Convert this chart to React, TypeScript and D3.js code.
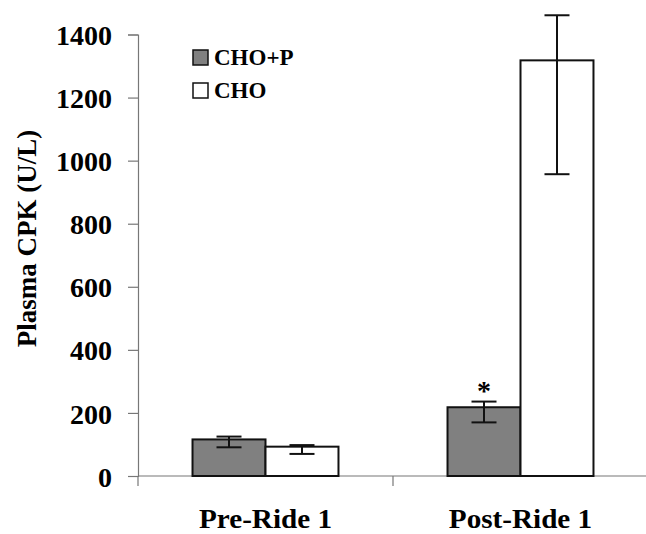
import { useRef, useEffect } from "react";
import * as d3 from "d3";

const categories = ["Pre-Ride 1", "Post-Ride 1"];
const series = ["CHO+P", "CHO"];
const means = [
  [116, 93],
  [218, 1318],
];
const errLow = [
  [91, 70],
  [170, 957],
];
const errHigh = [
  [125, 98],
  [236, 1461],
];
const yTicks = [0, 200, 400, 600, 800, 1000, 1200, 1400];
const significant = [
  [false, false],
  [true, false],
];

const W = 646;
const H = 534;
const FONT = "'Liberation Serif', 'Times New Roman', serif";

const App = () => {
  const svgRef = useRef<SVGSVGElement | null>(null);

  useEffect(() => {
    if (!svgRef.current) return;
    const svg = d3.select(svgRef.current);
    svg.selectAll("*").remove();

    const left = 138;
    const right = 648;
    const top = 34.5;
    const bottom = 476;

    const y = d3.scaleLinear().domain([0, 1400]).range([bottom, top]);
    const x0 = d3.scaleBand<string>().domain(categories).range([left, right]).padding(0);
    const x1 = d3
      .scaleBand<string>()
      .domain(series)
      .range([0, x0.bandwidth()])
      .paddingInner(0)
      .paddingOuter(0.747);
    const fills = d3.scaleOrdinal<string, string>().domain(series).range(["#808080", "#ffffff"]);

    const axisColor = "#777";

    // y axis
    const yAxis = svg
      .append("g")
      .attr("transform", `translate(${left},0)`)
      .call(d3.axisLeft(y).tickValues(yTicks).tickSize(10).tickPadding(16).tickFormat(d3.format("d")));
    yAxis.select(".domain").attr("stroke", axisColor).attr("stroke-width", 1.2);
    yAxis.selectAll(".tick line").attr("stroke", axisColor).attr("stroke-width", 1.2);
    yAxis
      .selectAll(".tick text")
      .attr("font-family", FONT)
      .attr("font-weight", "bold")
      .attr("font-size", 28)
      .attr("fill", "#000")
      .attr("dy", "0.36em");

    // x axis: line with boundary ticks
    const xg = svg.append("g");
    xg.append("line")
      .attr("x1", left)
      .attr("x2", right)
      .attr("y1", bottom)
      .attr("y2", bottom)
      .attr("stroke", axisColor)
      .attr("stroke-width", 1.2);
    const bounds = [left, ...categories.map((c) => (x0(c) as number) + x0.bandwidth())];
    xg.selectAll("line.bt")
      .data(bounds)
      .join("line")
      .attr("class", "bt")
      .attr("x1", (d) => d)
      .attr("x2", (d) => d)
      .attr("y1", bottom)
      .attr("y2", bottom + 10)
      .attr("stroke", axisColor)
      .attr("stroke-width", 1.2);
    xg.selectAll("text")
      .data(categories)
      .join("text")
      .attr(
        "transform",
        (d) => `translate(${(x0(d) as number) + x0.bandwidth() / 2},528) scale(1.08,1)`
      )
      .attr("text-anchor", "middle")
      .attr("font-family", FONT)
      .attr("font-weight", "bold")
      .attr("font-size", 27)
      .text((d) => d);

    // y label
    svg
      .append("text")
      .attr("transform", `translate(36,${(130 + 347) / 2}) rotate(-90)`)
      .attr("text-anchor", "middle")
      .attr("font-family", FONT)
      .attr("font-weight", "bold")
      .attr("font-size", 27)
      .text("Plasma CPK (U/L)");

    // bars
    const flat = categories.flatMap((c, ci) =>
      series.map((s, si) => ({
        c,
        s,
        v: means[ci][si],
        lo: errLow[ci][si],
        hi: errHigh[ci][si],
        sig: significant[ci][si],
      }))
    );
    const bx = (d: (typeof flat)[0]) => (x0(d.c) as number) + (x1(d.s) as number);

    svg
      .append("g")
      .selectAll("rect")
      .data(flat)
      .join("rect")
      .attr("x", bx)
      .attr("y", (d) => y(d.v))
      .attr("width", x1.bandwidth())
      .attr("height", (d) => y(0) - y(d.v))
      .attr("fill", (d) => fills(d.s))
      .attr("stroke", "#111")
      .attr("stroke-width", 2);

    // error bars
    const eg = svg.append("g").attr("stroke", "#111").attr("stroke-width", 2);
    const cap = 12.5;
    flat.forEach((d) => {
      const cx = bx(d) + x1.bandwidth() / 2;
      eg.append("line").attr("x1", cx).attr("x2", cx).attr("y1", y(d.lo)).attr("y2", y(d.hi));
      eg.append("line").attr("x1", cx - cap).attr("x2", cx + cap).attr("y1", y(d.lo)).attr("y2", y(d.lo));
      eg.append("line").attr("x1", cx - cap).attr("x2", cx + cap).attr("y1", y(d.hi)).attr("y2", y(d.hi));
      if (d.sig) {
        svg
          .append("text")
          .attr("x", cx)
          .attr("y", y(d.hi) - 2)
          .attr("text-anchor", "middle")
          .attr("font-family", FONT)
          .attr("font-weight", "bold")
          .attr("font-size", 28)
          .text("*");
      }
    });

    // legend
    const lg = svg.append("g").attr("transform", "translate(193,50)");
    series.forEach((s, i) => {
      const row = lg.append("g").attr("transform", `translate(0,${i * 33})`);
      row
        .append("rect")
        .attr("x", 0)
        .attr("y", 0)
        .attr("width", 15)
        .attr("height", 15)
        .attr("fill", fills(s))
        .attr("stroke", "#111")
        .attr("stroke-width", 1.5);
      row
        .append("text")
        .attr("x", 21)
        .attr("y", 15)
        .attr("font-family", FONT)
        .attr("font-weight", "bold")
        .attr("font-size", 23)
        .text(s);
    });
  }, []);

  return (
    <div style={{ position: "absolute", left: 0, top: 0 }}>
      <svg ref={svgRef} width={W} height={H} style={{ display: "block", background: "#fff" }}></svg>
    </div>
  );
};

export default App;
